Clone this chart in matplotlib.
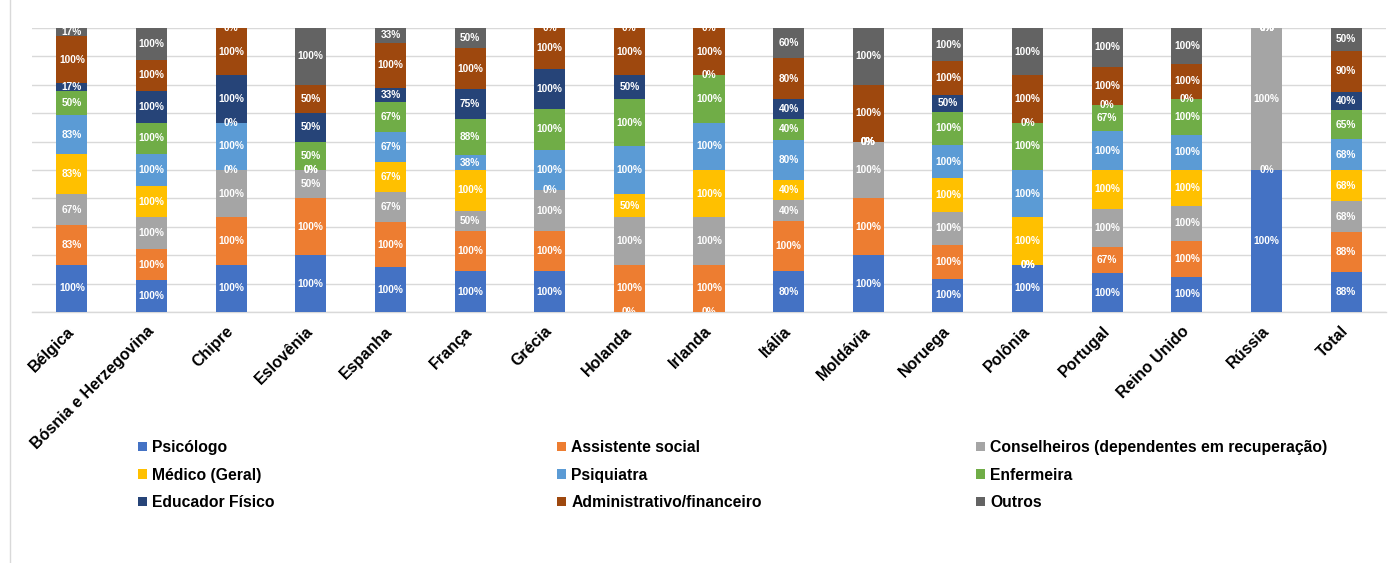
import matplotlib
matplotlib.use("Agg")
import matplotlib.pyplot as plt
from matplotlib.lines import Line2D
import numpy as np

plt.rcParams['font.family'] = ['Liberation Sans', 'DejaVu Sans']

countries = ["Bélgica", "Bósnia e Herzegovina", "Chipre", "Eslovênia", "Espanha",
             "França", "Grécia", "Holanda", "Irlanda", "Itália", "Moldávia",
             "Noruega", "Polônia", "Portugal", "Reino Unido", "Rússia", "Total"]

series_names = ["Psicólogo", "Assistente social", "Conselheiros (dependentes em recuperação)",
                "Médico (Geral)", "Psiquiatra", "Enfermeira", "Educador Físico",
                "Administrativo/financeiro", "Outros"]

psicologo      = [100, 100, 100, 100, 100, 100, 100,   0,   0,  80, 100, 100, 100, 100, 100, 100, 88]
assistente     = [ 83, 100, 100, 100, 100, 100, 100, 100, 100, 100, 100, 100,   0,  67, 100,   0, 88]
conselheiros   = [ 67, 100, 100,  50,  67,  50, 100, 100, 100,  40, 100, 100,   0, 100, 100, 100, 68]
medico         = [ 83, 100,   0,   0,  67, 100,   0,  50, 100,  40,   0, 100, 100, 100, 100,   0, 68]
psiquiatra     = [ 83, 100, 100,   0,  67,  38, 100, 100, 100,  80,   0, 100, 100, 100, 100,   0, 68]
enfermeira     = [ 50, 100,   0,  50,  67,  88, 100, 100, 100,  40,   0, 100, 100,  67, 100,   0, 65]
educador       = [ 17, 100, 100,  50,  33,  75, 100,  50,   0,  40,   0,  50,   0,   0,   0,   0, 40]
administrativo = [100, 100, 100,  50, 100, 100, 100, 100, 100,  80, 100, 100, 100, 100, 100,   0, 90]
outros         = [ 17, 100,   0, 100,  33,  50,   0,   0,   0,  60, 100, 100, 100, 100, 100,   0, 50]

colors = ["#4472C4", "#ED7D31", "#A5A5A5", "#FFC000", "#5B9BD5",
          "#70AD47", "#264478", "#9E480E", "#636363"]

data = np.array([psicologo, assistente, conselheiros, medico, psiquiatra,
                 enfermeira, educador, administrativo, outros], dtype=float)
totals = data.sum(axis=0)
frac = data / totals * 100

fig = plt.figure(figsize=(13.92, 5.63), dpi=100)
W, H = 1392, 563
ax = fig.add_axes([32 / W, 1 - 312 / H, (1386 - 32) / W, (312 - 28) / H])

x = np.arange(len(countries))
bottom = np.zeros(len(countries))
containers = []
for i, name in enumerate(series_names):
    bc = ax.bar(x, frac[i], bottom=bottom, width=0.39, color=colors[i],
                label=name, zorder=3, linewidth=0)
    containers.append(bc)
    for j in range(len(countries)):
        yc = bottom[j] + frac[i][j] / 2
        ax.text(x[j], yc, f"{int(data[i][j])}%", ha='center', va='center',
                color='white', fontsize=7.3, fontweight='bold', zorder=4, clip_on=True)
    bottom += frac[i]

ax.set_xlim(-0.5, len(countries) - 0.5)
ax.set_ylim(0, 100)
ax.set_yticks(np.arange(0, 101, 10))
ax.yaxis.grid(True, color='#D9D9D9', linewidth=1, zorder=0)
ax.tick_params(axis='y', left=False, labelleft=False)
ax.tick_params(axis='x', length=0, pad=6)
for s in ['top', 'right', 'left']:
    ax.spines[s].set_visible(False)
ax.spines['bottom'].set_color('#D9D9D9')
ax.spines['bottom'].set_linewidth(1)
ax.set_xticks(x)
ax.set_xticklabels(countries, rotation=45, ha='right', va='center',
                   rotation_mode='anchor', fontsize=11.5, fontweight='bold')
for lbl in ax.get_xticklabels():
    lbl.set_y(-0.03)

# legends (three columns)
cols = [[0, 3, 6], [1, 4, 7], [2, 5, 8]]
xs = [138, 557, 976]
for c, xpos in zip(cols, xs):
    fig.legend([containers[k] for k in c], [series_names[k] for k in c],
               loc='upper left', bbox_to_anchor=(xpos / W, 1 - 440 / H),
               frameon=False, prop={'size': 11.3, 'weight': 'bold'},
               handlelength=0.55, handleheight=0.55,
               handletextpad=0.35, labelspacing=0.8, borderaxespad=0, borderpad=0)

fig.add_artist(Line2D([10 / W, 10 / W], [0, 1], color='#D9D9D9', linewidth=1))

fig.savefig("out.png", dpi=100)
